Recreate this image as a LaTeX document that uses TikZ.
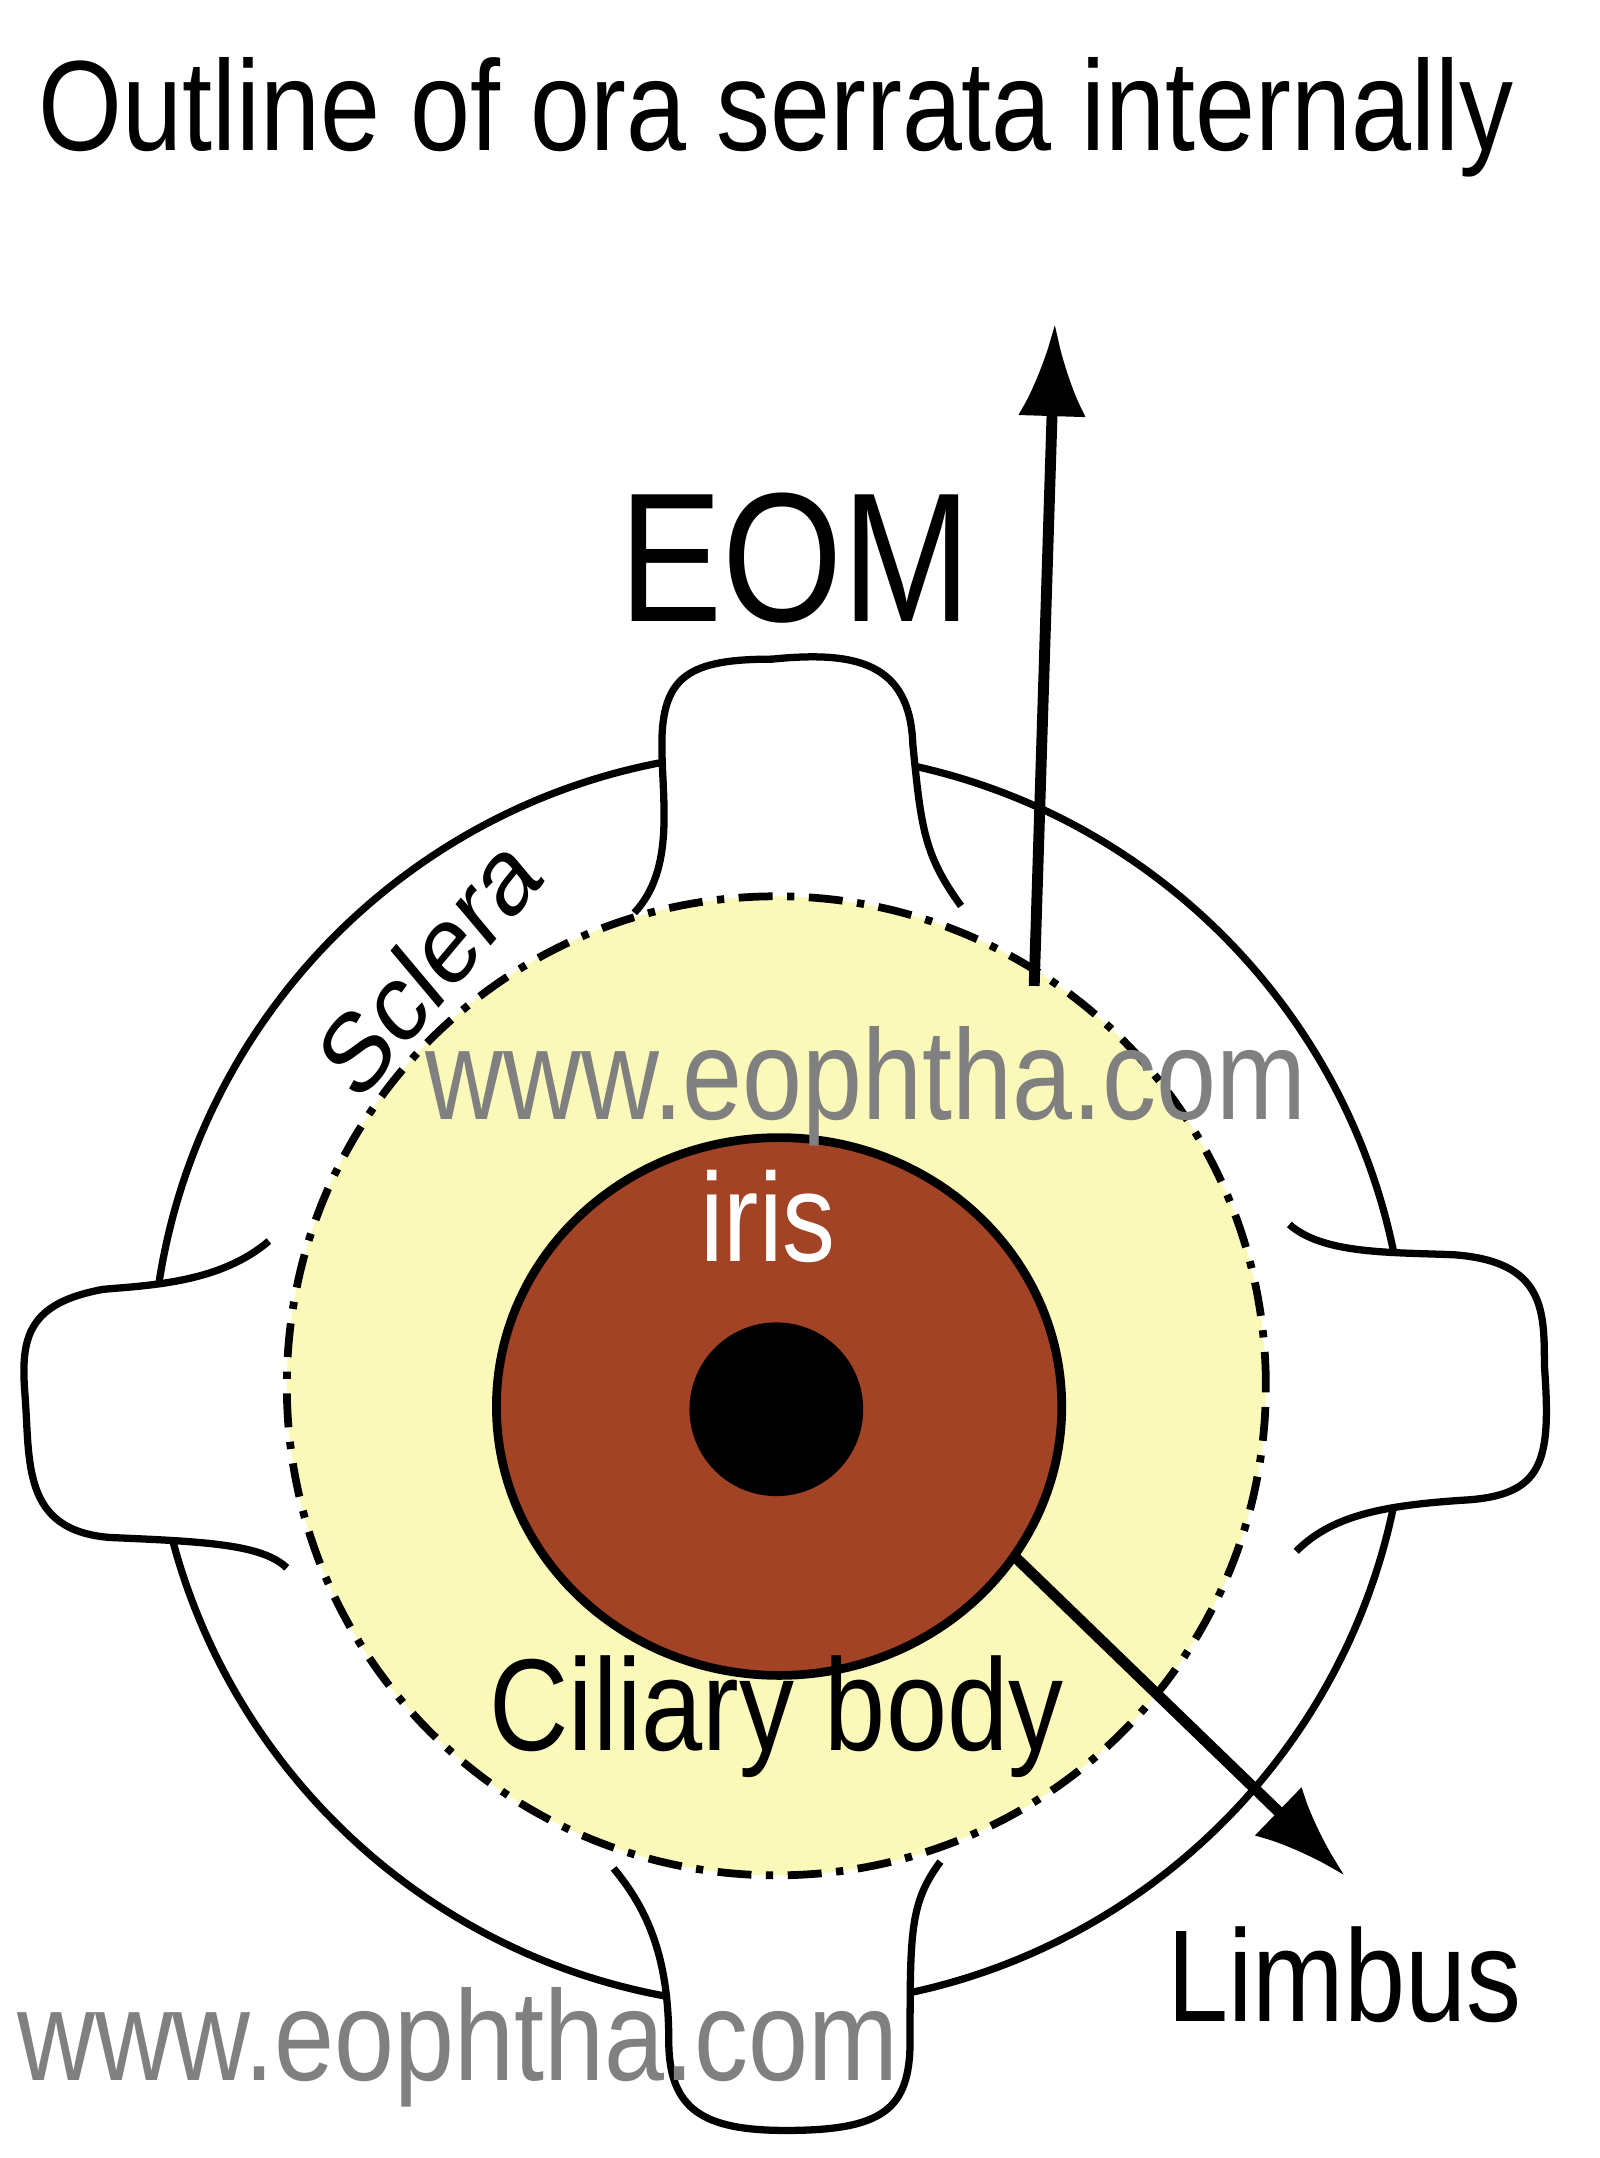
\documentclass[tikz,border=0pt]{standalone}
\usepackage{fontspec}
\setmainfont{Liberation Sans}
\usetikzlibrary{arrows.meta,shapes.geometric}
\definecolor{cili}{HTML}{FBF9B9}
\definecolor{irisbrown}{HTML}{A34325}
\definecolor{mark}{HTML}{808080}
\tikzset{
	lab/.style={font=\fontsize{#1}{#1}\selectfont,xscale=0.84,inner sep=0pt},
	tab/.style={draw=black,line width=3pt,fill=white},
	pointer/.style={line width=4.5pt,-{Latex[length=38pt,width=28pt]}},
}
\begin{document}
\begin{tikzpicture}[x=0.02cm,y=-0.02cm]
	\useasboundingbox (0,0) rectangle (1160,1565);
	
	% sclera and muscles
	\node[circle,draw,line width=3pt,minimum size=910*0.02cm] (sclera) at (565,1000) {};
	\draw[tab] (460,662) .. controls (490,630) and (480,580) .. (480,540) .. controls (480,490) and (500,478) .. (560,478) .. controls (620,472) and (660,480) .. (662,540) .. controls (668,600) and (670,620) .. (697,657);
	\draw[tab] (445,1355) .. controls (470,1385) and (485,1420) .. (485,1480) .. controls (485,1530) and (510,1545) .. (570,1545) .. controls (640,1545) and (660,1530) .. (660,1480) .. controls (660,1400) and (660,1380) .. (682,1350);
	\draw[tab] (195,900) .. controls (160,930) and (110,932) .. (75,935) .. controls (20,945) and (15,970) .. (18,1010) .. controls (22,1060) and (15,1110) .. (80,1115) .. controls (150,1118) and (190,1120) .. (208,1137);
	\draw[tab] (935,888) .. controls (960,910) and (1010,908) .. (1055,910) .. controls (1120,915) and (1120,950) .. (1120,990) .. controls (1125,1060) and (1120,1085) .. (1060,1088) .. controls (1000,1092) and (965,1100) .. (940,1125);
	
	% ciliary body, iris, pupil
	\node[circle,draw,line width=3.2pt,dash pattern=on 14pt off 6pt on 3pt off 6pt,fill=cili,minimum size=710*0.02cm] (ciliary) at (563,1005) {};
	\node[ellipse,draw,line width=3.6pt,fill=irisbrown,minimum width=410*0.02cm,minimum height=390*0.02cm,inner sep=0pt] (iris) at (565,1020) {};
	\node[circle,fill=black,minimum size=126*0.02cm] (pupil) at (563,1022) {};
	
	% labels
	\node[lab=53pt] (title) at (563,85) {Outline of ora serrata internally};
	\node[lab=76pt] (eom) at (577,405) {EOM};
	\node[lab=46pt,rotate=45] (scleratext) at (310,700) {Sclera};
	\node[lab=53pt,text=mark] (mark1) at (628,788) {www.eophtha.com};
	\node[lab=52pt,text=white] (iristext) at (557,882) {iris};
	\node[lab=54pt] (ciliarytext) at (563,1245) {Ciliary body};
	\node[lab=54pt] (limbus) at (975,1432) {Limbus};
	\node[lab=53pt,text=mark] (mark2) at (332,1485) {www.eophtha.com};
	
	% pointers
	\coordinate (eomfoot) at (750,715);
	\coordinate (eomtip) at (765,235);
	\coordinate (limbfoot) at (735,1128);
	\coordinate (limbtip) at (975,1360);
	\draw[pointer] (eomfoot) -- (eomtip);
	\draw[pointer] (limbfoot) -- (limbtip);
\end{tikzpicture}
\end{document}
